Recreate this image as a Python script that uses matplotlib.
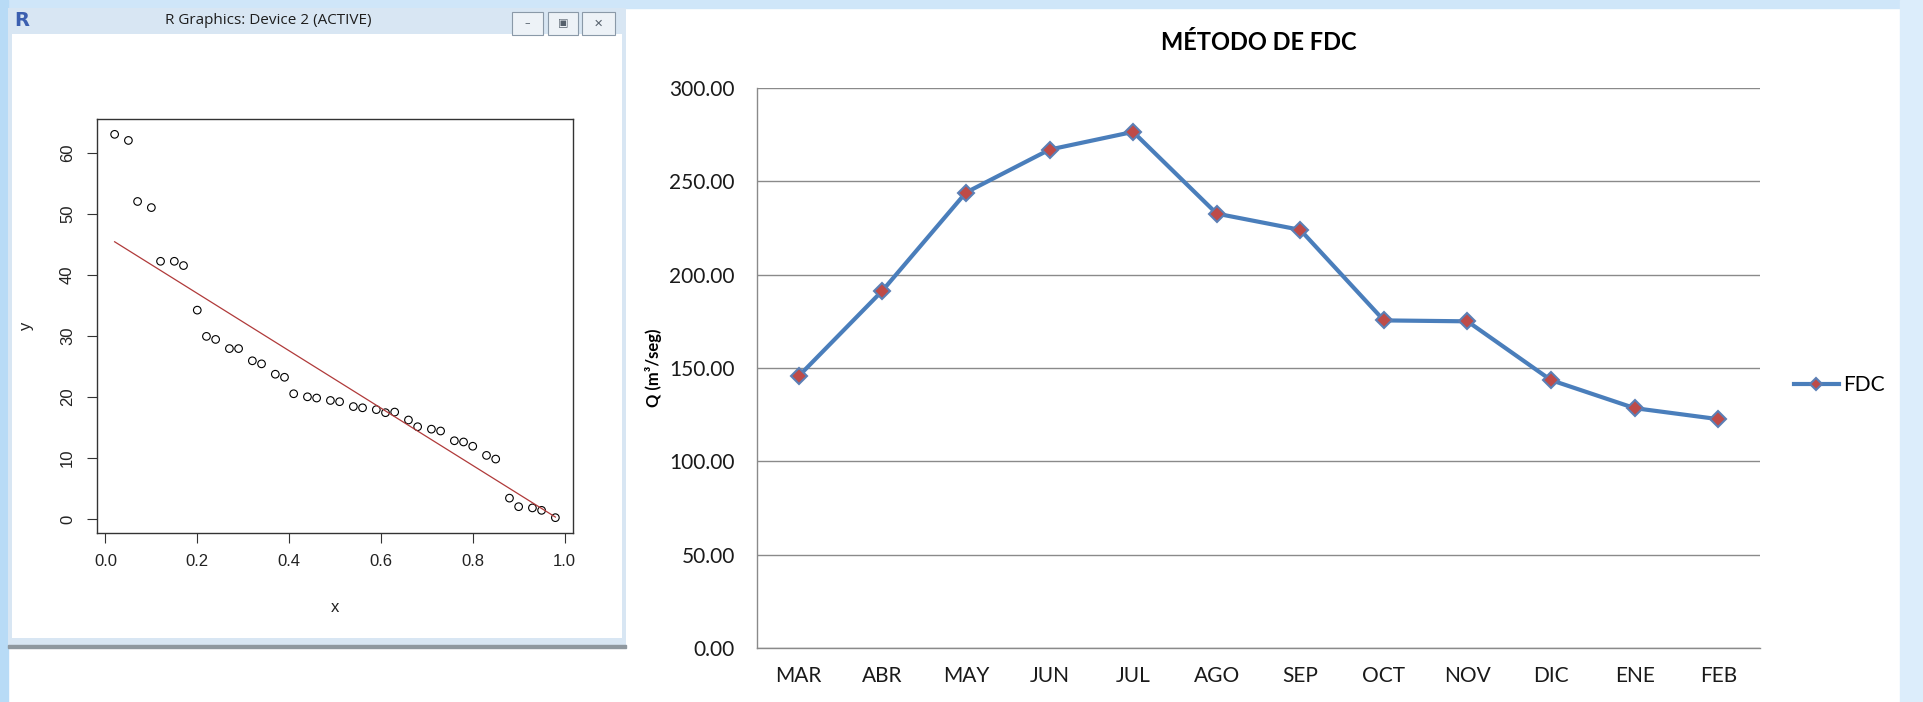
import numpy as np
import matplotlib.pyplot as plt
from matplotlib.patches import Rectangle

W, H = 1923, 702

# left panel: R scatter (x, y)
x_vals = [0.02, 0.05, 0.07, 0.10, 0.12, 0.15, 0.17, 0.20, 0.22, 0.24,
          0.27, 0.29, 0.32, 0.34, 0.37, 0.39, 0.41, 0.44, 0.46, 0.49,
          0.51, 0.54, 0.56, 0.59, 0.61, 0.63, 0.66, 0.68, 0.71, 0.73,
          0.76, 0.78, 0.80, 0.83, 0.85, 0.88, 0.90, 0.93, 0.95, 0.98]
y_vals = [63.0, 62.0, 52.0, 51.0, 42.2, 42.2, 41.5, 34.2, 29.9, 29.4,
          27.9, 27.9, 25.9, 25.4, 23.7, 23.2, 20.5, 20.0, 19.8, 19.4,
          19.2, 18.4, 18.2, 17.9, 17.4, 17.5, 16.2, 15.1, 14.7, 14.4,
          12.8, 12.6, 11.9, 10.4, 9.8, 3.4, 2.0, 1.8, 1.4, 0.2]
# red fitted line
fit_x = [0.02, 0.98]
fit_y = [45.4, 0.3]
r_xticks = [0.0, 0.2, 0.4, 0.6, 0.8, 1.0]
r_yticks = [0, 10, 20, 30, 40, 50, 60]

# right panel: Excel line chart
months = ["MAR", "ABR", "MAY", "JUN", "JUL", "AGO", "SEP", "OCT", "NOV", "DIC", "ENE", "FEB"]
fdc = [145.7, 191.4, 244.0, 267.0, 276.5, 232.7, 224.0, 175.5, 175.0, 143.5, 128.5, 122.6]
q_ticks = [0, 50, 100, 150, 200, 250, 300]


def px_box(left, top, right, bottom):
    # pixel box -> figure fraction [l, b, w, h]
    return [left / W, 1 - bottom / H, (right - left) / W, (bottom - top) / H]


fig = plt.figure(figsize=(W / 100, H / 100), dpi=100)
fig.patch.set_facecolor("white")

# slide background + R window frame
bg = fig.add_axes([0, 0, 1, 1], zorder=0)
bg.set_xlim(0, W)
bg.set_ylim(H, 0)
bg.axis("off")
bg.add_patch(Rectangle((0, 0), W, 8, color="#cfe6f9"))
bg.add_patch(Rectangle((0, 0), 8, H, color="#b8dbf6"))
bg.add_patch(Rectangle((1900, 0), 23, H, color="#dcedfb"))
bg.add_patch(Rectangle((8, 8), 618, 640, facecolor="#d8e6f3", edgecolor="none"))
bg.add_patch(Rectangle((12, 34), 610, 604, facecolor="white", edgecolor="none"))
bg.add_patch(Rectangle((8, 645), 618, 3, color="#8f989f"))

# title bar
bg.text(22, 21, "R", color="#3b5fb0", fontsize=14, fontweight="bold",
        family="DejaVu Sans", ha="center", va="center")
bg.text(268, 21, "R Graphics: Device 2 (ACTIVE)", color="#1e1e1e", fontsize=11,
        family="Open Sans", ha="center", va="center")
for bx0, bx1, sym in [(512, 543, "\u2013"), (548, 578, "\u25a3"), (582, 615, "\u2715")]:
    bg.add_patch(Rectangle((bx0, 12), bx1 - bx0, 23, facecolor="#edf2f7",
                           edgecolor="#8a99a8", linewidth=0.8))
    bg.text((bx0 + bx1) / 2, 23.5, sym, color="#55606c", fontsize=8,
            ha="center", va="center")

# R scatter plot
ax1 = fig.add_axes(px_box(97, 119, 573, 533))
x_arr = np.array(x_vals)
y_arr = np.array(y_vals)
ax1.scatter(x_arr, y_arr, s=30, facecolors="none", edgecolors="black", linewidths=0.8)
ax1.plot(fit_x, fit_y, color="#b03a3a", linewidth=0.9)
xr = x_arr.max() - x_arr.min()
yr = y_arr.max() - y_arr.min()
ax1.set_xlim(x_arr.min() - 0.04 * xr, x_arr.max() + 0.04 * xr)
ax1.set_ylim(y_arr.min() - 0.04 * yr, y_arr.max() + 0.04 * yr)
ax1.set_xticks(r_xticks)
ax1.set_xticklabels([f"{v:.1f}" for v in r_xticks])
ax1.set_yticks(r_yticks)
ax1.set_yticklabels([str(v) for v in r_yticks], rotation=90, va="center")
for lab in ax1.get_xticklabels() + ax1.get_yticklabels():
    lab.set_family("Liberation Sans")
ax1.tick_params(length=7, width=0.8, color="#333333", labelsize=12, labelcolor="#222222")
ax1.tick_params(axis="x", pad=8)
ax1.tick_params(axis="y", pad=8.8)
for sp in ax1.spines.values():
    sp.set_color("#333333")
    sp.set_linewidth(1.0)
ax1.set_xlabel("x", family="Liberation Sans", fontsize=12, color="#222222")
ax1.set_ylabel("y", family="Liberation Sans", fontsize=12, color="#222222")
ax1.xaxis.set_label_coords(0.5, -(608 - 533) / (533 - 119))
ax1.xaxis.label.set_va("center")
ax1.yaxis.set_label_coords(-(97 - 27) / (573 - 97), 0.5)
ax1.yaxis.label.set_va("center")

# Excel chart
ax2 = fig.add_axes(px_box(757, 88, 1760, 648))
xpos = np.arange(len(months))
ax2.plot(xpos, fdc, color="#4a7ebb", linewidth=3, marker="D", markersize=8.5,
         markerfacecolor="#be4b48", markeredgecolor="#5b7fb5", markeredgewidth=1.5,
         label="FDC", zorder=3)
ax2.set_xlim(-0.5, len(months) - 0.5)
ax2.set_ylim(0, 300)
ax2.set_yticks(q_ticks)
ax2.set_yticklabels([f"{v:.2f}" for v in q_ticks])
ax2.set_xticks(xpos)
ax2.set_xticklabels(months)
for lab in ax2.get_xticklabels() + ax2.get_yticklabels():
    lab.set_family("Lato")
ax2.tick_params(length=0, labelsize=15, labelcolor="#1a1a1a")
ax2.tick_params(axis="y", pad=16)
ax2.tick_params(axis="x", pad=12.6)
ax2.grid(axis="y", color="#8a8a8a", linewidth=1)
ax2.set_axisbelow(True)
for side in ["top", "right"]:
    ax2.spines[side].set_visible(False)
for side in ["left", "bottom"]:
    ax2.spines[side].set_color("#8a8a8a")
    ax2.spines[side].set_linewidth(1)

ax2.set_title("MÉTODO DE FDC", family="Lato", fontsize=17, fontweight="bold",
              y=1 + 45 / 560, va="center", pad=0)
ax2.set_ylabel("Q (m³/seg)", family=["Lato", "DejaVu Sans"], fontsize=12, fontweight="bold")
ax2.yaxis.set_label_coords(-(757 - 653) / 1003, 0.5)
ax2.yaxis.label.set_va("center")

ax2.legend(loc="center left", bbox_to_anchor=(1 + (1794 - 1760) / 1003, (648 - 385) / 560),
           frameon=False, borderpad=0, borderaxespad=0, handlelength=2.16,
           handletextpad=0.2, markerscale=0.75, prop={"family": "Lato", "size": 15})

fig.savefig("out.png", dpi=100)
